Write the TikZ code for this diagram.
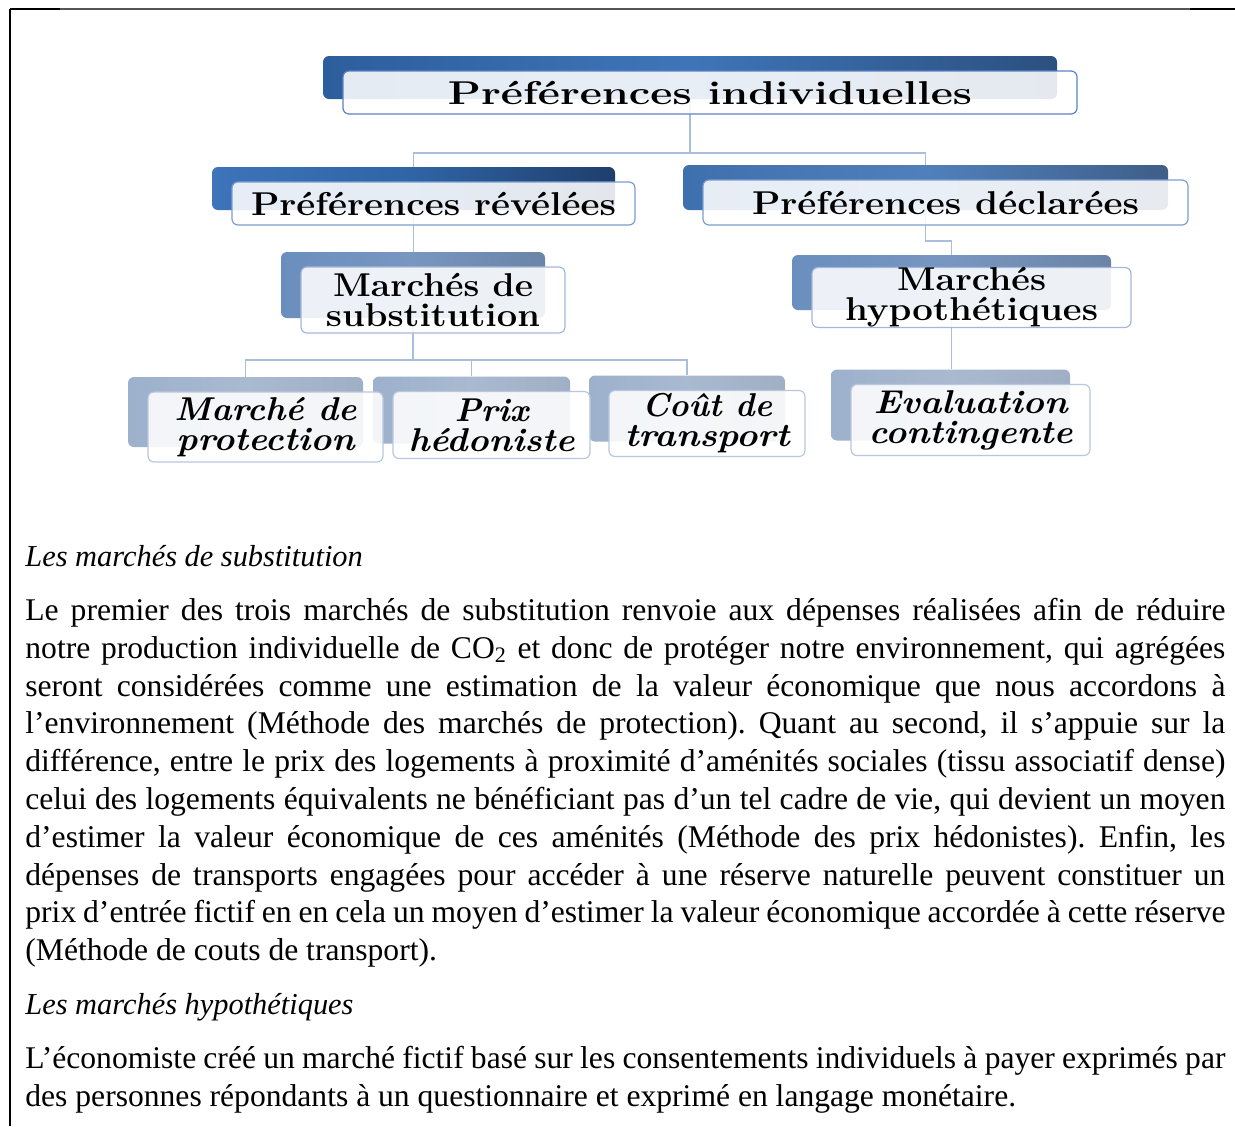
\documentclass[tikz,border=0pt]{standalone}
\usepackage{fontspec}
\usetikzlibrary{backgrounds}
\newfontfamily\bodyfont{Liberation Serif}
\pgfdeclarelayer{conn}
\pgfsetlayers{conn,background,main}
% back box colours
\definecolor{b1l}{HTML}{2D5E9C}\definecolor{b1m}{HTML}{3F75B8}\definecolor{b1r}{HTML}{2B5080}
\definecolor{b2al}{HTML}{3D74BA}\definecolor{b2am}{HTML}{2F64A5}\definecolor{b2ar}{HTML}{1F3E6C}
\definecolor{b2bl}{HTML}{3F70AE}\definecolor{b2bm}{HTML}{5080BB}\definecolor{b2br}{HTML}{3F5E88}
\definecolor{b3l}{HTML}{6A8FBE}\definecolor{b3m}{HTML}{7896C0}\definecolor{b3r}{HTML}{6B84A6}
\definecolor{b4l}{HTML}{9DB1CC}\definecolor{b4m}{HTML}{A9B9D0}\definecolor{b4r}{HTML}{A0AFC4}
% front box borders
\definecolor{fr1}{HTML}{5B83C2}
\definecolor{fr2a}{HTML}{7C9ED0}
\definecolor{fr2b}{HTML}{7C9ED0}
\definecolor{fr3}{HTML}{A3B8D8}
\definecolor{fr4}{HTML}{B8C7DE}
\definecolor{connc}{HTML}{A8BEDC}
\definecolor{framegray}{HTML}{555555}
\newcommand\dtxt[2]{\resizebox{#1}{\height}{#2}}
\newcommand\mkbox[7]{%
  \node[front=fr#6, minimum width=#4*0.5pt, minimum height=#5*0.5pt] (#1) at (#2,#3) {#7};
  \begin{scope}[on background layer]
    \node[back#6, minimum width=#4*0.5pt, minimum height=#5*0.5pt] (#1B) at ([shift={(-20,-15)}]#1.center) {};
  \end{scope}}
\newcommand\jl[3]{\node[bodytxt, anchor=base west] (#1) at (25,#2) {\hbox to 600pt{#3}};}
\newcommand\nl[3]{\node[bodytxt, anchor=base west] (#1) at (25,#2) {#3};}
\tikzset{
  front/.style={draw=#1, line width=0.6pt, rounded corners=3pt, fill=white,
    fill opacity=0.88, text opacity=1, inner sep=0pt, align=center,
    font=\fontsize{16.5}{15}\selectfont\bfseries\addfontfeature{LetterSpace=2,FakeBold=1.2,WordSpace=0.6}},
  backbase/.style={rounded corners=3pt, inner sep=0pt},
  back1/.style={backbase, left color=b1l, right color=b1r, middle color=b1m},
  back2a/.style={backbase, left color=b2al, right color=b2ar, middle color=b2am},
  back2b/.style={backbase, left color=b2bl, right color=b2br, middle color=b2bm},
  back3/.style={backbase, left color=b3l, right color=b3r, middle color=b3m},
  back4/.style={backbase, left color=b4l, right color=b4r, middle color=b4m},
  conn/.style={draw=connc, line width=0.7pt},
  bodytxt/.style={inner sep=0pt, font={\bodyfont\fontsize{15.8}{19}\selectfont\frenchspacing\spaceskip=0.25em plus 0.6em minus 0.1em}},
  bodyit/.style={bodytxt, font={\bodyfont\fontsize{15.2}{19}\selectfont\itshape}},
}
\begin{document}
\begin{tikzpicture}[x=0.5pt,y=-0.5pt]
\useasboundingbox (0,0) rectangle (1235,1126);
\begin{pgfonlayer}{conn}
\fill[white] (0,0) rectangle (1235,1126);
\end{pgfonlayer}
% frame
\coordinate (fA) at (1235,9);
\coordinate (fB) at (10,9);
\coordinate (fC) at (10,1126);
\draw[line width=0.9pt, black] (fA) -- (fB);
\draw[line width=0.9pt, framegray] (60,9) -- (1190,9);
\draw[line width=1.1pt, black] (fB) -- (fC);
% boxes
\mkbox{top}{710}{92.5}{734}{43}{1}{\dtxt{262pt}{Préférences individuelles}}
\mkbox{rev}{433.5}{203.5}{403}{43}{2a}{\dtxt{182.5pt}{Préférences révélées}}
\mkbox{dec}{945.5}{202.5}{485}{45}{2b}{\dtxt{193.5pt}{Préférences déclarées}}
\mkbox{sub}{433}{300}{264}{66}{3}{\dtxt{100pt}{Marchés de}\\\dtxt{107pt}{substitution}}
\mkbox{hyp}{971.5}{297.5}{319}{55}{3}{\dtxt{74.5pt}{Marchés}\\\dtxt{126.5pt}{hypothétiques}}
\mkbox{pro}{265.5}{427}{235}{70}{4}{\itshape\dtxt{91pt}{Marché de}\\\itshape\dtxt{89pt}{protection}}
\mkbox{hed}{491.5}{425}{197}{67}{4}{\itshape\dtxt{37pt}{Prix}\\\itshape\dtxt{83pt}{hédoniste}}
\mkbox{tra}{707}{423.5}{196}{66}{4}{\itshape\dtxt{65pt}{Coût de}\\\itshape\dtxt{82.5pt}{transport}}
\mkbox{eva}{970.5}{420}{239}{71}{4}{\itshape\dtxt{97pt}{Evaluation}\\\itshape\dtxt{102pt}{contingente}}
% connectors
\coordinate (j1) at (0,153);
\coordinate (j2) at (0,360);
\coordinate (j3) at (0,241);
\begin{pgfonlayer}{conn}
\draw[conn] (topB.center) -- (topB.center |- j1) -| (revB.north);
\draw[conn] (topB.center |- j1) -| (decB.north);
\draw[conn] (revB.center) -- (revB.center |- subB.north);
\draw[conn] (decB.center) -- (decB.center |- j3) -| (hypB.north);
\draw[conn] (subB.center) -- (subB.center |- j2) -| (proB.north);
\draw[conn] (subB.center |- j2) -| (hedB.north);
\draw[conn] (subB.center |- j2) -| (traB.north);
\draw[conn] (hypB.center) -- (hypB.center |- evaB.north);
\end{pgfonlayer}
% body text
\node[bodyit, anchor=base west] (h1) at (25,566) {Les marchés de substitution};
\jl{l1}{620}{Le premier des trois marchés de substitution renvoie aux dépenses réalisées afin de réduire}
\jl{l2}{658}{notre production individuelle de CO\textsubscript{2} et donc de protéger notre environnement, qui agrégées}
\jl{l3}{696}{seront considérées comme une estimation de la valeur économique que nous accordons à}
\jl{l4}{733}{l’environnement (Méthode des marchés de protection). Quant au second, il s’appuie sur la}
\jl{l5}{771}{différence, entre le prix des logements à proximité d’aménités sociales (tissu associatif dense)}
\jl{l6}{809}{celui des logements équivalents ne bénéficiant pas d’un tel cadre de vie, qui devient un moyen}
\jl{l7}{847}{d’estimer la valeur économique de ces aménités (Méthode des prix hédonistes). Enfin, les}
\jl{l8}{885}{dépenses de transports engagées pour accéder à une réserve naturelle peuvent constituer un}
\jl{l9}{922}{prix d’entrée fictif en en cela un moyen d’estimer la valeur économique accordée à cette réserve}
\nl{l10}{960}{(Méthode de couts de transport).}
\node[bodyit, anchor=base west] (h2) at (25,1014) {Les marchés hypothétiques};
\jl{m1}{1068}{L’économiste créé un marché fictif basé sur les consentements individuels à payer exprimés par}
\nl{m2}{1106}{des personnes répondants à un questionnaire et exprimé en langage monétaire.}
\end{tikzpicture}
\end{document}
